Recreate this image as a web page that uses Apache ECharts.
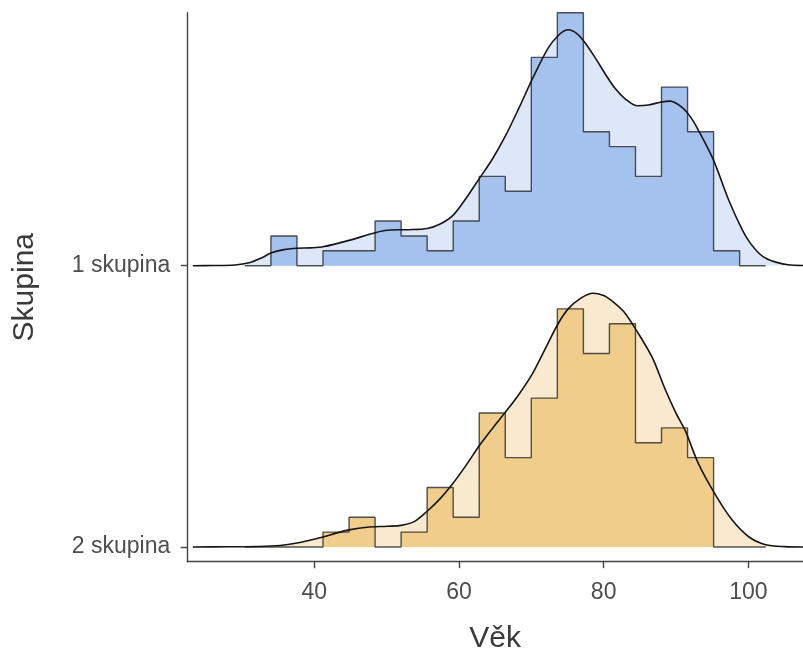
<!DOCTYPE html>
<html>
<head>
<meta charset="utf-8">
<script src="https://cdn.jsdelivr.net/npm/echarts@6/dist/echarts.min.js"></script>
<style>
  html, body { margin: 0; padding: 0; background: #fff; }
  #chart { width: 803px; height: 654px; }
</style>
</head>
<body>
<div id="chart"></div>
<script>
// Ridgeline of age (Věk) by group: histogram (20 bins) plus kernel density per group.
const groups = ['1 skupina', '2 skupina'];

// Histogram bins shared by both groups
const binStart = 30.4;
const binEnd = 102.4;
const binCounts1 = [0, 2, 0, 1, 1, 3, 2, 1, 3, 6, 5, 14, 17, 9, 8, 6, 12, 9, 1, 0];
const binCounts2 = [0, 0, 0, 1, 2, 0, 1, 4, 2, 9, 6, 10, 16, 13, 15, 7, 8, 6, 0, 0];

// Density curves, scaled to histogram counts: [age, height]
const density1 = [
  [23.2, 0], [26, 0.01], [29, 0.05], [31, 0.2], [32.6, 0.5], [34, 0.85], [35.8, 1.08],
  [37.6, 1.17], [39.5, 1.2], [41.2, 1.27], [44.8, 1.7], [48.4, 2.22], [50.5, 2.4],
  [53, 2.42], [55.6, 2.5], [57.4, 2.8], [59.2, 3.4], [61, 4.55], [62.8, 5.85],
  [64.6, 7.15], [66.4, 8.7], [68.2, 10.5], [70.1, 12.5], [72.3, 14.6], [73.8, 15.5],
  [75.1, 15.85], [76.3, 15.6], [77.4, 15.0], [78.8, 14.0], [80.2, 12.9], [81.6, 11.9],
  [83, 11.2], [84.6, 10.75], [86.2, 10.8], [88, 11.0], [89.2, 11.06], [90.8, 10.66],
  [92, 10.0], [93.1, 9.1], [95.2, 7.08], [97.3, 4.4], [99.2, 2.38], [100.3, 1.5],
  [101.5, 0.82], [102.6, 0.45], [103.8, 0.24], [105.5, 0.06], [107.6, 0.01]
];
const density2 = [
  [23.2, 0], [28, 0.01], [32, 0.03], [35.3, 0.1], [38, 0.3], [41.2, 0.67], [43, 0.93],
  [44.8, 1.15], [47.3, 1.33], [50.1, 1.39], [52, 1.45], [53.8, 1.7], [55.6, 2.4],
  [57.4, 3.25], [59.2, 4.3], [61, 5.5], [62.8, 6.8], [64.6, 7.95], [66.4, 9.05],
  [68.2, 10.2], [70.1, 11.6], [71.9, 13.3], [73.7, 15.0], [75.1, 16.0], [76.8, 16.7],
  [78.5, 17.05], [80, 16.9], [81.1, 16.55], [82.8, 15.8], [84.6, 14.5], [86.7, 12.75],
  [88.5, 10.6], [90, 9.0], [91.3, 7.8], [93.1, 5.6], [95.5, 3.47], [97.8, 1.79],
  [100.1, 0.67], [102.4, 0.15], [105, 0.02], [107.6, 0]
];

const xTicks = [40, 60, 80, 100];

// Vertical spacing between ridge baselines, in count units
const RIDGE_STEP = 18.9;

const histColors = ['#a5c2ef', '#f0cd8b'];
const densColors = ['#dde7f8', '#f8e9cf'];

function baseline(i) { return (groups.length - 1 - i) * RIDGE_STEP; }

function histLine(counts, base) {
  const w = (binEnd - binStart) / counts.length;
  const pts = counts.map((c, i) => [binStart + i * w, base + c]);
  pts.push([binEnd, base]);
  return pts;
}

const series = [];
[[binCounts1, density1], [binCounts2, density2]].forEach(([counts, dens], i) => {
  const base = baseline(i);
  const densData = dens.map(([x, y]) => [x, base + y]);
  series.push({
    type: 'line', data: densData, smooth: 0.3, showSymbol: false, silent: true,
    lineStyle: { width: 0 }, z: 1,
    areaStyle: { color: densColors[i], opacity: 1, origin: base }
  });
  series.push({
    type: 'line', data: histLine(counts, base), step: 'end', showSymbol: false, silent: true,
    lineStyle: { color: 'rgba(40,40,40,0.8)', width: 1.4 }, z: 2,
    areaStyle: { color: histColors[i], opacity: 1, origin: base }
  });
  series.push({
    type: 'line', data: densData, smooth: 0.3, showSymbol: false, silent: true,
    lineStyle: { color: '#151515', width: 1.6 }, z: 3
  });
});

const chart = echarts.init(document.getElementById('chart'), null, { renderer: 'canvas' });
chart.setOption({
  animation: false,
  backgroundColor: '#ffffff',
  grid: { left: 187.3, right: 0, top: 12.7, bottom: 92.3, containLabel: false, outerBoundsMode: 'none' },
  xAxis: {
    type: 'value', min: 22.44, max: 107.56,
    name: 'Věk', nameLocation: 'middle', nameGap: 62,
    nameTextStyle: { fontFamily: 'Liberation Sans', fontSize: 30, color: '#3a3a3a' },
    splitLine: { show: false },
    axisLine: { show: true, onZero: false, lineStyle: { color: '#444', width: 1.4 } },
    axisTick: { show: true, length: 6.5, customValues: xTicks, lineStyle: { color: '#444', width: 1.4 } },
    axisLabel: { customValues: xTicks, margin: 19, fontFamily: 'Liberation Sans', fontSize: 23, color: '#4d4d4d' }
  },
  yAxis: {
    type: 'value', min: -0.99, max: 35.9,
    name: 'Skupina', nameLocation: 'middle', nameGap: 148,
    nameTextStyle: { fontFamily: 'Liberation Sans', fontSize: 30, color: '#3a3a3a' },
    splitLine: { show: false },
    axisLine: { show: true, onZero: false, lineStyle: { color: '#444', width: 1.4 } },
    axisTick: { show: true, length: 6.5, customValues: groups.map((g, i) => baseline(i)), lineStyle: { color: '#444', width: 1.4 } },
    axisLabel: {
      customValues: groups.map((g, i) => baseline(i)), margin: 17,
      fontFamily: 'Liberation Sans', fontSize: 23, color: '#4d4d4d',
      formatter: (v) => {
        const idx = groups.findIndex((g, i) => Math.abs(baseline(i) - v) < 1e-6);
        return idx >= 0 ? groups[idx] : '';
      }
    }
  },
  series: series
});
</script>
</body>
</html>
